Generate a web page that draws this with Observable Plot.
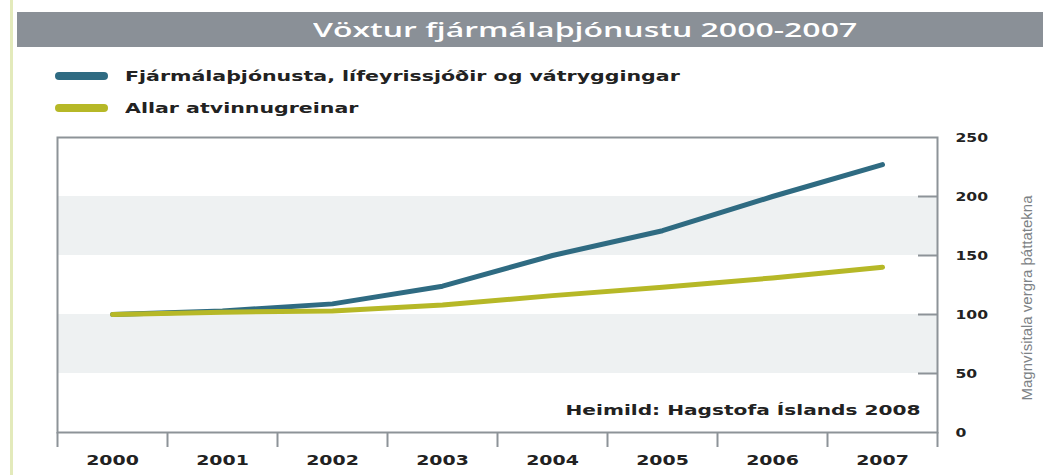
<!DOCTYPE html>
<html><head><meta charset="utf-8">
<script src="https://cdn.jsdelivr.net/npm/d3@7"></script>
<script src="https://cdn.jsdelivr.net/npm/@observablehq/plot@0.6"></script>
<style>
body{margin:0;background:#fff;}
#wrap{position:relative;width:1043px;height:475px;overflow:hidden;background:#fff;}
#edge{position:absolute;left:10px;top:0;width:3px;height:475px;background:#e3eabb;}
#titlebar{position:absolute;left:17px;top:12px;width:1026px;height:35px;background:#8a9097;}
#titletext{position:absolute;left:313px;top:12px;height:35px;line-height:35px;color:#fff;font-family:"Open Sans";font-weight:600;font-size:20px;white-space:nowrap;transform-origin:0 50%;}
.leg{position:absolute;left:55px;height:20px;display:flex;align-items:center;white-space:nowrap;}
.sw{width:53px;height:8px;border-radius:4px;margin-right:17px;}
.legtext{font-family:"DejaVu Sans";font-weight:bold;font-size:14.5px;color:#222;transform-origin:0 50%;display:inline-block;}
#chart{position:absolute;left:0;top:0;}
</style>
</head><body>
<div id="wrap">
  <div id="edge"></div>
  <div id="chart"></div>
  <div id="titlebar"></div>
  <div id="titletext"></div>
  <div id="legend"></div>
</div>
<script>
const titleText = "Vöxtur fjármálaþjónustu 2000-2007";
const seriesNames = ["Fjármálaþjónusta, lífeyrissjóðir og vátryggingar", "Allar atvinnugreinar"];
const seriesColors = ["#2f6b82", "#b6b827"];
const years = [2000, 2001, 2002, 2003, 2004, 2005, 2006, 2007];
const financeValues = [100, 103, 109, 124, 150, 171, 200, 227];
const allIndustryValues = [100, 102, 103, 108, 116, 123, 131, 140];
const yTicks = [0, 50, 100, 150, 200, 250];
const yInnerTicks = [50, 100, 150, 200];
const bands = [[50, 100], [150, 200]];
const yTitle = "Magnvísitala vergra þáttatekna";
const sourceText = "Heimild: Hagstofa Íslands 2008";

const tt = document.getElementById("titletext");
tt.textContent = titleText;
tt.style.transform = `scaleX(${544 / tt.offsetWidth})`;

const legendTops = [66, 98];
const legend = document.getElementById("legend");
const legTexts = [];
seriesNames.forEach((name, i) => {
  const row = document.createElement("div");
  row.className = "leg";
  row.style.top = legendTops[i] + "px";
  const sw = document.createElement("div");
  sw.className = "sw";
  sw.style.background = seriesColors[i];
  row.appendChild(sw);
  const t = document.createElement("span");
  t.className = "legtext";
  t.textContent = name;
  row.appendChild(t);
  legend.appendChild(row);
  legTexts.push(t);
});
const legScale = 555 / legTexts[0].offsetWidth;
legTexts.forEach(t => t.style.transform = `scaleX(${legScale})`);

const data = years.flatMap((yr, i) => [
  {year: yr, value: financeValues[i], series: seriesNames[0]},
  {year: yr, value: allIndustryValues[i], series: seriesNames[1]}
]);
const boundaries = years.map(y => y - 0.5).concat([years[years.length - 1] + 0.5]);
const gray = "#8d9398";
const boldFont = "DejaVu Sans";

const chart = Plot.plot({
  width: 1043, height: 475,
  marginTop: 137, marginBottom: 43, marginLeft: 57, marginRight: 106,
  x: {domain: [boundaries[0], boundaries[boundaries.length - 1]]},
  y: {domain: [0, 250]},
  color: {domain: seriesNames, range: seriesColors},
  marks: [
    Plot.rect(bands, {y1: d => d[0], y2: d => d[1], fill: "#eef1f2"}),
    Plot.frame({stroke: gray, strokeWidth: 2}),
    Plot.axisY(yInnerTicks, {anchor: "right", tickSize: -20, tickFormat: () => "", stroke: gray, strokeWidth: 2, label: null}),
    Plot.axisY(yTicks, {anchor: "right", tickSize: 0, tickPadding: 18, label: null, fill: "#222", fontFamily: boldFont, fontWeight: "bold", fontSize: 13}),
    Plot.axisX(boundaries, {tickSize: 15, tickFormat: () => "", stroke: gray, strokeWidth: 2, label: null}),
    Plot.axisX(years, {tickSize: 0, tickPadding: 23, tickFormat: d => String(d), label: null, fill: "#222", fontFamily: boldFont, fontWeight: "bold", fontSize: 14}),
    Plot.line(data, {x: "year", y: "value", z: "series", stroke: "series", strokeWidth: 5, strokeLinecap: "round", strokeLinejoin: "round"}),
    Plot.text([sourceText], {frameAnchor: "bottom-right", dx: -17, dy: -18, fill: "#222", fontFamily: boldFont, fontWeight: "bold", fontSize: 14.5}),
    Plot.text([yTitle], {frameAnchor: "right", rotate: -90, dx: 90, dy: 13, textAnchor: "middle", lineAnchor: "middle", fill: "#7d8285", fontFamily: "Liberation Sans", fontSize: 14})
  ]
});
document.getElementById("chart").appendChild(chart);

// stretch the glyphs horizontally, as in the reference
const yearSet = new Set(years.map(String));
const ySet = new Set(yTicks.map(String));
chart.querySelectorAll("text").forEach(el => {
  const s = el.textContent;
  const len = el.getComputedTextLength();
  let target = null;
  if (yearSet.has(s)) target = len * 1.35;
  else if (ySet.has(s)) target = len * 1.2;
  else if (s === sourceText) target = 355;
  else if (s === yTitle) target = 205;
  if (target && len > 0) {
    el.setAttribute("textLength", target);
    el.setAttribute("lengthAdjust", "spacingAndGlyphs");
  }
});
</script>
</body></html>
